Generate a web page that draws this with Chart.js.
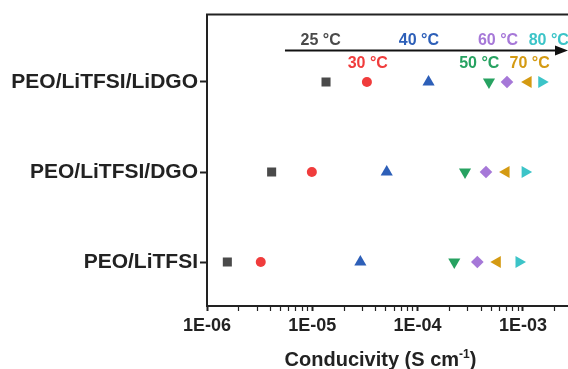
<!DOCTYPE html>
<html>
<head>
<meta charset="utf-8">
<script src="https://cdn.jsdelivr.net/npm/chart.js@4"></script>
<style>
  body { margin: 0; background: #fff; }
</style>
</head>
<body>
<canvas id="myChart" width="568" height="369"></canvas>
<script>
// rows of the y axis, bottom to top
const rowNames = ['PEO/LiTFSI', 'PEO/LiTFSI/DGO', 'PEO/LiTFSI/LiDGO'];
const tempLabels = ['25 °C', '30 °C', '40 °C', '50 °C', '60 °C', '70 °C', '80 °C'];

// conductivity (S/cm) per temperature, one value per row
const c25 = [1.56e-6, 4.11e-6, 1.35e-5];
const c30 = [3.24e-6, 9.9e-6, 3.30e-5];
const c40 = [2.86e-5, 5.09e-5, 1.27e-4];
const c50 = [2.23e-4, 2.82e-4, 4.76e-4];
const c60 = [3.69e-4, 4.46e-4, 7.06e-4];
const c70 = [5.71e-4, 6.92e-4, 1.12e-3];
const c80 = [9.18e-4, 1.05e-3, 1.51e-3];

const xTickLabels = ['1E-06', '1E-05', '1E-04', '1E-03'];

// where the temperature captions sit along the arrow
const captionAt = [1.2e-5, 3.36e-5, 1.03e-4, 3.85e-4, 5.8e-4, 1.16e-3, 1.76e-3];

const FONT = '"Liberation Sans", Arial, sans-serif';
const colors = ['#4a4a4a', '#f03c3c', '#2d5fb8', '#27a261', '#a678d8', '#d49a12', '#3cc4c8'];

function rowPoints(vals) {
    return vals.map((v, i) => ({ x: v, y: i }));
}

function isPow10(v) {
    const l = Math.log10(v);
    return Math.abs(l - Math.round(l)) < 1e-9;
}

const frame = {
    id: 'frame',
    afterDraw(chart) {
        const { ctx, chartArea, scales } = chart;
        const x = scales.x, y = scales.y;
        ctx.save();
        // top border
        ctx.strokeStyle = '#222';
        ctx.lineWidth = 2;
        ctx.beginPath();
        ctx.moveTo(chartArea.left - 1, chartArea.top);
        ctx.lineTo(chartArea.right, chartArea.top);
        ctx.stroke();

        // arrow
        const ay = y.getPixelForValue(2.35);
        const ax0 = x.getPixelForValue(5.5e-6);
        const ax1 = chartArea.right;
        ctx.strokeStyle = '#111';
        ctx.lineWidth = 2;
        ctx.beginPath();
        ctx.moveTo(ax0, ay);
        ctx.lineTo(ax1 - 8, ay);
        ctx.stroke();
        ctx.fillStyle = '#111';
        ctx.beginPath();
        ctx.moveTo(ax1, ay);
        ctx.lineTo(ax1 - 13, ay - 5);
        ctx.lineTo(ax1 - 13, ay + 5);
        ctx.closePath();
        ctx.fill();

        // temperature captions, alternating above / below the arrow
        ctx.font = 'bold 16px ' + FONT;
        ctx.textAlign = 'center';
        ctx.textBaseline = 'middle';
        tempLabels.forEach((t, i) => {
            ctx.fillStyle = colors[i];
            const ty = y.getPixelForValue(i % 2 === 0 ? 2.455 : 2.209);
            ctx.fillText(t, x.getPixelForValue(captionAt[i]), ty);
        });

        // axis title with superscript
        const cx = (chartArea.left + chartArea.right) / 2 - 7;
        const by = 366;
        ctx.fillStyle = '#222';
        ctx.textBaseline = 'alphabetic';
        ctx.textAlign = 'left';
        const main = 'Conducivity (S cm';
        ctx.font = 'bold 20px ' + FONT;
        const w1 = ctx.measureText(main).width;
        const w3 = ctx.measureText(')').width;
        ctx.font = 'bold 12px ' + FONT;
        const w2 = ctx.measureText('-1').width;
        let sx = cx - (w1 + w2 + w3) / 2;
        ctx.font = 'bold 20px ' + FONT;
        ctx.fillText(main, sx, by);
        ctx.font = 'bold 12px ' + FONT;
        ctx.fillText('-1', sx + w1, by - 8);
        ctx.font = 'bold 20px ' + FONT;
        ctx.fillText(')', sx + w1 + w2, by);
        ctx.restore();
    }
};

const ctx = document.getElementById('myChart').getContext('2d');
const myChart = new Chart(ctx, {
    type: 'scatter',
    data: {
        datasets: [
            { label: tempLabels[0], data: rowPoints(c25), pointStyle: 'rect', pointRadius: 6.4, backgroundColor: colors[0] },
            { label: tempLabels[1], data: rowPoints(c30), pointStyle: 'circle', pointRadius: 5, backgroundColor: colors[1] },
            { label: tempLabels[2], data: rowPoints(c40), pointStyle: 'triangle', pointRadius: 7, backgroundColor: colors[2] },
            { label: tempLabels[3], data: rowPoints(c50), pointStyle: 'triangle', rotation: 180, pointRadius: 7, backgroundColor: colors[3] },
            { label: tempLabels[4], data: rowPoints(c60), pointStyle: 'rectRot', pointRadius: 6.3, backgroundColor: colors[4] },
            { label: tempLabels[5], data: rowPoints(c70), pointStyle: 'triangle', rotation: 270, pointRadius: 7, backgroundColor: colors[5] },
            { label: tempLabels[6], data: rowPoints(c80), pointStyle: 'triangle', rotation: 90, pointRadius: 7, backgroundColor: colors[6] },
        ]
    },
    options: {
        responsive: false,
        animation: false,
        layout: { autoPadding: false, padding: { top: 12, right: 0, left: 0, bottom: 0 } },
        elements: { point: { borderWidth: 0 } },
        plugins: { legend: { display: false }, tooltip: { enabled: false } },
        scales: {
            x: {
                type: 'logarithmic',
                min: 1e-6,
                max: 2.68e-3,
                afterBuildTicks(scale) {
                    const ticks = [];
                    for (let e = -6; e <= -3; e++) {
                        for (let m = 1; m <= 9; m++) {
                            const v = m * Math.pow(10, e);
                            if (v <= scale.max) ticks.push({ value: v });
                        }
                    }
                    scale.ticks = ticks;
                },
                afterFit(scale) { scale.height = 63; },
                ticks: {
                    autoSkip: false,
                    maxRotation: 0,
                    padding: 4,
                    color: '#222',
                    font: { family: FONT, size: 18, weight: 'bold' },
                    callback(value) {
                        if (!isPow10(value)) return '';
                        return xTickLabels[Math.round(Math.log10(value)) + 6];
                    }
                },
                grid: {
                    drawOnChartArea: false,
                    tickLength: 5,
                    tickColor: '#222',
                    tickWidth: (c) => (c.tick && isPow10(c.tick.value) ? 2 : 1.2)
                },
                border: { display: true, color: '#222', width: 2 }
            },
            y: {
                type: 'linear',
                min: -0.488,
                max: 2.748,
                afterBuildTicks(scale) {
                    scale.ticks = rowNames.map((_, i) => ({ value: i }));
                },
                afterFit(scale) { scale.width = 207; },
                ticks: {
                    padding: 2,
                    color: '#222',
                    font: { family: FONT, size: 21, weight: 'bold' },
                    callback(value) { return rowNames[value]; }
                },
                grid: {
                    drawOnChartArea: false,
                    tickLength: 7,
                    tickColor: '#222',
                    tickWidth: 2
                },
                border: { display: true, color: '#222', width: 2 }
            }
        }
    },
    plugins: [frame]
});
</script>
</body>
</html>
